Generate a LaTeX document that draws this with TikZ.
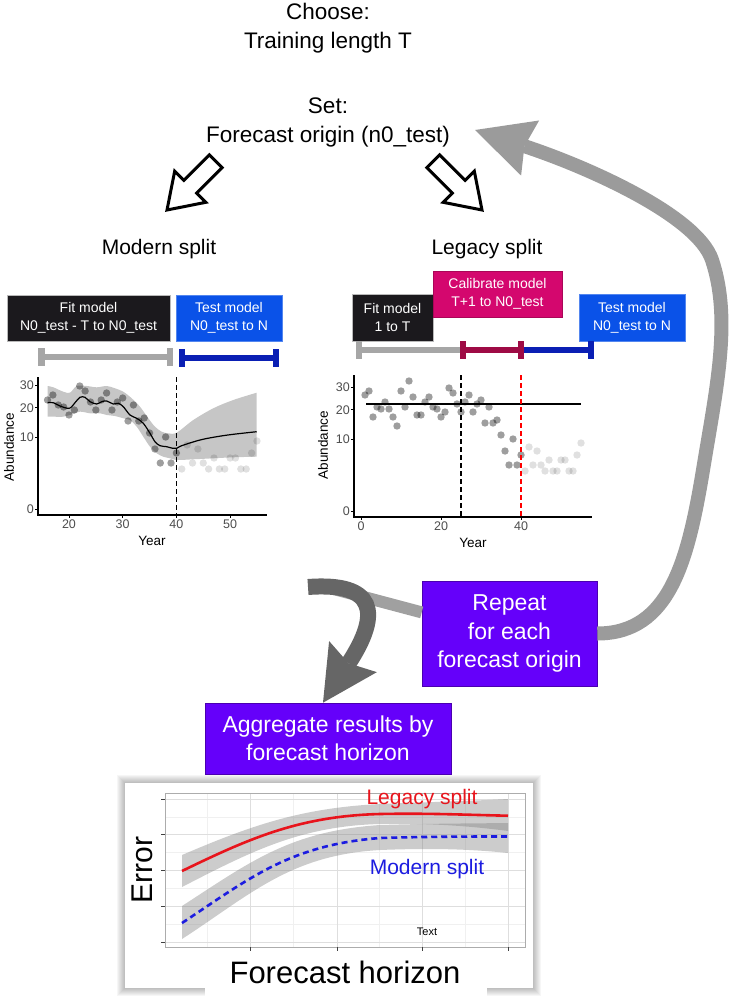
\documentclass[tikz,border=0pt]{standalone}
\usepackage{fontspec}
\setmainfont{Liberation Sans}
\usetikzlibrary{arrows.meta,calc}
\definecolor{fitblack}{HTML}{1B191D}
\definecolor{testblue}{HTML}{0A52E8}
\definecolor{calpink}{HTML}{D4076E}
\definecolor{bargray}{HTML}{A6A6A6}
\definecolor{barred}{HTML}{9E0B45}
\definecolor{barblue}{HTML}{0A1FB4}
\definecolor{purp}{HTML}{6500FA}
\definecolor{purpedge}{HTML}{4A00B0}
\definecolor{loopgray}{HTML}{9B9B9B}
\definecolor{bandgray}{HTML}{A0A0A0}
\definecolor{darkarrow}{HTML}{666666}
\definecolor{ticklab}{HTML}{4D4D4D}
\definecolor{legred}{HTML}{E8141C}
\definecolor{modblue}{HTML}{1C1CE0}
\definecolor{gridmaj}{HTML}{DEDEDE}
\definecolor{gridmin}{HTML}{F0F0F0}
\newcommand\phasebar[4]{%
  \fill[#4] (#1,{#3-3}) rectangle (#2,{#3+3});
  \fill[#4] ({#1-3.2},{#3-9}) rectangle ({#1+3.2},{#3+9});
  \fill[#4] ({#2-3.2},{#3-9}) rectangle ({#2+3.2},{#3+9});}
\def\abdata{1/116,2/120,3/94,4/104,5/102,6/109,7/102,8/94,9/85,10/120,11/104,12/130,13/114,14/96,15/96,16/109,17/114,18/104,19/102,20/94,21/99,22/123,23/118,24/107,25/99,26/109,27/116,28/99,29/107,30/111,31/88,32/104,33/88,34/91,35/76,36/60,37/46,38/72,39/46,40/56,41/40,42/64,43/46,44/60,45/46,46/40,47/51,48/40,49/40,50/51,51/51,52/40,53/40,54/56,55/68}
\begin{document}
\begin{tikzpicture}[x=1pt,y=-1pt,
  title/.style={font=\fontsize{22.5}{29}\selectfont, align=center, inner sep=0pt},
  splitlab/.style={font=\fontsize{21}{25}\selectfont, inner sep=0pt},
  phasebox/.style={text=white, font=\fontsize{14}{18}\selectfont, align=center, inner sep=0pt, line width=0.6pt},
  purplebox/.style={fill=purp, draw=purpedge, line width=0.6pt, text=white, font=\fontsize{23}{28.5}\selectfont, align=center, inner sep=0pt},
  hollow/.style={draw=black, line width=3pt, fill=white, line join=miter},
  axisline/.style={line width=1.1pt, black},
  tickmark/.style={line width=1pt, black},
  ticklabel/.style={font=\fontsize{12.5}{14}\selectfont, text=ticklab, inner sep=1pt},
  axtitle/.style={font=\fontsize{13.5}{16}\selectfont, inner sep=0pt},
  vdash/.style={line width=1.4pt, dash pattern=on 5pt off 3pt},
  ptdark/.style={fill=black, fill opacity=0.38},
  ptlight/.style={fill=black, fill opacity=0.12},
  ribbon/.style={fill=gray!45},
  cribbon/.style={fill=gray, fill opacity=0.4},
  gmaj/.style={draw=gridmaj, line width=0.7pt},
  gmin/.style={draw=gridmin, line width=0.5pt},
]
\useasboundingbox (0,0) rectangle (737,1000);

% ---------- top texts ----------
\node[title] (choose) at (328,28) {Choose:\\Training length T};
\node[title] (setorigin) at (328,122) {Set:\\Forecast origin (n0\_test)};

% hollow arrows
\draw[hollow] (167,210) -- (205.9,202.3) -- (196.7,193.1) -- (222.2,167.6) -- (209.4,154.8) -- (183.9,180.3) -- (174.7,171.1) -- cycle;
\draw[hollow] (482,210) -- (443.1,202.3) -- (452.3,193.1) -- (426.8,167.6) -- (439.6,154.8) -- (465.1,180.3) -- (474.3,171.1) -- cycle;

\node[splitlab] (modern) at (159,249.5) {Modern split};
\node[splitlab] (legacy) at (487,249.5) {Legacy split};

% ---------- modern split boxes and bars ----------
\node[phasebox, fill=fitblack, draw=gray!55, minimum width=163pt, minimum height=46pt] (mfit) at (88.5,318) {Fit model\\N0\_test - T to N0\_test};
\node[phasebox, fill=testblue, draw=testblue!70!white, minimum width=106pt, minimum height=46pt] (mtest) at (229,318) {Test model\\N0\_test to N};
\phasebar{41.5}{170}{356.5}{bargray}
\phasebar{182}{276}{357.5}{barblue}

% ---------- modern split plot ----------
\fill[ribbon] plot[smooth, tension=0.55] coordinates {(47.7,386) (53.3,387.3) (63.3,391.7) (70,392.7) (76.7,386) (86.7,386) (96.7,387.3) (106.7,386) (115,388.3) (123.3,391.7) (131.7,398.3) (140,406.7) (148.3,418.3) (155,426.7) (161.7,431.7) (168.3,433.3) (176.7,432.7) (193.3,420) (213.3,408.3) (233.3,400) (256.7,392.7)}
  -- plot[smooth, tension=0.55] coordinates {(256.7,456.7) (233.3,457.3) (213.3,458.3) (193.3,459.3) (176.7,460) (170,458.3) (163.3,456.7) (156.7,453.3) (150,446.7) (143.3,436.7) (136.7,426.7) (130,420) (123.3,418.3) (115,416) (106.7,415) (100,413.3) (90,413.3) (80,411.7) (70,415) (63.3,416.7) (53.3,416.7) (47.7,416.7)} -- cycle;
\foreach \yr/\h in \abdata {
  \ifnum\yr>15
    \ifnum\yr>40
      \fill[ptlight] ({69+(\yr-20)*5.37},{509-\h}) circle[radius=3.7pt];
    \else
      \fill[ptdark] ({69+(\yr-20)*5.37},{509-\h}) circle[radius=3.7pt];
    \fi
  \fi
}
\draw[line width=1.2pt, black] plot[smooth, tension=0.55] coordinates {(47.7,402.7) (53.3,402.7) (60,406) (69.3,408.3) (75,402.7) (80,397.3) (85,397.3) (90,401.7) (96.7,404) (101.7,401.7) (106.7,401) (113.3,404) (118.3,403.3) (123.3,406.7) (130,415) (136.7,418.3) (143.3,423.3) (150,433.3) (155,441.7) (160,445.7) (166.7,446.7) (172.7,448.3) (176.7,448.3) (181.7,445.7) (200,440) (216.7,436.7) (233.3,434.3) (256.7,431.7)};
\draw[vdash] (176.4,377) -- (176.4,515);
\draw[axisline] (38,377) -- (38,515) -- (267,515);
\foreach \v/\yy in {0/509,10/437.5,20/407.9,30/385.2} {
  \draw[tickmark] (35,\yy) -- (38,\yy);
  \node[ticklabel, anchor=east] at (35,\yy) {\v};
}
\foreach \v/\xx in {20/69,30/122.7,40/176.4,50/230.1} {
  \draw[tickmark] (\xx,515) -- (\xx,518);
  \node[ticklabel, anchor=north] at (\xx,519) {\v};
}
\node[axtitle, rotate=90] (mabund) at (9,447) {Abundance};
\node[axtitle] (myear) at (152,541) {Year};

% ---------- legacy split boxes and bars ----------
\node[phasebox, fill=fitblack, draw=gray!55, minimum width=81pt, minimum height=47pt] (lfit) at (392.5,317.5) {Fit model\\1 to T};
\node[phasebox, fill=calpink, draw=calpink!80!black, minimum width=129pt, minimum height=46pt] (lcal) at (497.5,294) {Calibrate model\\T+1 to N0\_test};
\node[phasebox, fill=testblue, draw=testblue!70!white, minimum width=106pt, minimum height=47pt] (ltest) at (632,317.5) {Test model\\N0\_test to N};
\phasebar{359}{462.8}{350}{bargray}
\phasebar{521}{591}{350}{barblue}
\phasebar{462.8}{521}{350}{barred}

% ---------- legacy split plot ----------
\foreach \yr/\h in \abdata {
  \ifnum\yr>40
    \fill[ptlight] ({361+4*\yr},{511-\h}) circle[radius=3.7pt];
  \else
    \fill[ptdark] ({361+4*\yr},{511-\h}) circle[radius=3.7pt];
  \fi
}
\draw[line width=1.2pt, black] (366,404) -- (581,404);
\draw[vdash, black] (461,375) -- (461,517);
\draw[vdash, red] (521,375) -- (521,517);
\draw[axisline] (354,375) -- (354,517) -- (592,517);
\foreach \v/\yy in {0/511,10/439.5,20/409.9,30/387.2} {
  \draw[tickmark] (351,\yy) -- (354,\yy);
  \node[ticklabel, anchor=east] at (351,\yy) {\v};
}
\foreach \v/\xx in {0/361,20/441,40/521} {
  \draw[tickmark] (\xx,517) -- (\xx,520);
  \node[ticklabel, anchor=north] at (\xx,521) {\v};
}
\node[axtitle, rotate=90] (labund) at (323,445) {Abundance};
\node[axtitle] (lyear) at (473,543) {Year};

% ---------- purple boxes ----------
\node[purplebox, minimum width=175pt, minimum height=105pt] (repeat) at (509.5,633.5) {Repeat\\for each\\forecast origin};
\node[purplebox, minimum width=246pt, minimum height=71pt] (aggregate) at (328,738.5) {Aggregate results by\\forecast horizon};

% ---------- arrows ----------
\coordinate (looptip) at (475,130);
\coordinate (darkstart) at (308,587);
\coordinate (bandend) at (330,588);
\draw[line width=14pt, loopgray, -{Stealth[length=58pt, width=58pt, inset=6pt, line width=0pt]}]
  (repeat.east) .. controls (670,633.5) and (688,560) .. (703,470)
  .. controls (716,390) and (732,320) .. (712,260)
  .. controls (697,215) and (585,166) .. (looptip);
\draw[line width=12pt, bandgray] ($(repeat.north west)!0.3!(repeat.south west)$) -- (bandend);
\draw[line width=16pt, darkarrow, -{Stealth[length=55pt, width=57pt, inset=8pt, line width=0pt]}]
  (darkstart) .. controls (375,582) and (382,612) .. ([xshift=-5pt]aggregate.north);

% ---------- bottom chart ----------
\foreach \s in {1,...,8} {
  \fill[black, opacity=0.035] ({125-\s},{783-\s}) rectangle ({533+\s},{988+\s});
}
\fill[white] (125,783) rectangle (533,988);
\fill[white] (205,986) rectangle (487,1000);
\foreach \gx in {207,293,379,465} \draw[gmin] (\gx,793) -- (\gx,947);
\foreach \gy in {817,852,888,924} \draw[gmin] (165,\gy) -- (525,\gy);
\foreach \gx in {250,337,422,508} \draw[gmaj] (\gx,793) -- (\gx,947);
\foreach \gy in {799,834.5,870,906,942} \draw[gmaj] (165,\gy) -- (525,\gy);
\draw[draw=gray!65, line width=0.9pt] (165,793) rectangle (525,947);
\foreach \gy in {799,834.5,870,906,942} \draw[line width=0.8pt, black!75] (161,\gy) -- (165,\gy);
\foreach \gx in {250,337,422,508} \draw[line width=0.8pt, black!75] (\gx,947) -- (\gx,951);
\fill[cribbon] (182,855) .. controls (250,826) and (300,808) .. (380,804) .. controls (430,802) and (470,801) .. (508,799)
  -- (508,831) .. controls (470,826) and (430,823) .. (380,824) .. controls (300,826) and (250,852) .. (182,887) -- cycle;
\fill[cribbon] (182,906) .. controls (250,862) and (290,831) .. (380,825) .. controls (430,823.5) and (470,823.5) .. (508,823)
  -- (508,853) .. controls (470,849) and (430,848) .. (380,850) .. controls (290,855) and (250,895) .. (182,939) -- cycle;
\draw[legred, line width=2.6pt] (182,871) .. controls (250,838) and (300,816) .. (380,814) .. controls (430,813) and (470,815) .. (508,815.7);
\draw[modblue, line width=2.6pt, dash pattern=on 6pt off 4pt] (182,923) .. controls (250,878) and (290,845) .. (380,838) .. controls (430,836.5) and (470,836.5) .. (508,836.5);
\node[font=\fontsize{21}{25}\selectfont, text=legred, inner sep=0pt] (leglab) at (422,799) {Legacy split};
\node[font=\fontsize{21}{25}\selectfont, text=modblue, inner sep=0pt] (modlab) at (427,869) {Modern split};
\node[font=\fontsize{11}{13}\selectfont, inner sep=0pt] (txt) at (427,932) {Text};
\node[font=\fontsize{30}{34}\selectfont, rotate=90, inner sep=0pt] (errlab) at (142,870) {Error};
\node[font=\fontsize{31}{35}\selectfont, inner sep=0pt] (fhlab) at (345,972) {Forecast horizon};
\end{tikzpicture}
\end{document}
